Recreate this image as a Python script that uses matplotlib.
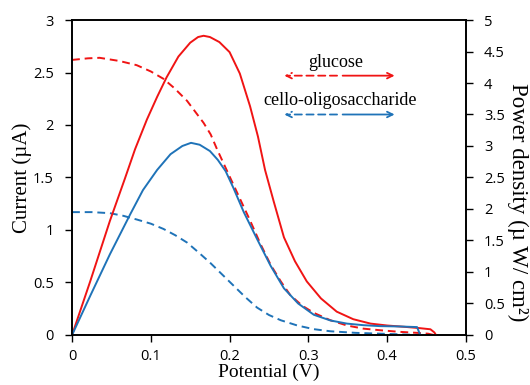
import matplotlib
matplotlib.use("Agg")
import matplotlib.pyplot as plt

# glucose: current (dashed, left axis) and power density (solid, right axis)
glu_v_i = [0, 0.02, 0.035, 0.06, 0.082, 0.1, 0.116, 0.13, 0.146, 0.157, 0.167, 0.176, 0.184,
           0.192, 0.2, 0.213, 0.226, 0.239, 0.252, 0.265, 0.277, 0.292, 0.307, 0.328, 0.349,
           0.37, 0.391, 0.415, 0.438, 0.452, 0.459]
glu_i = [2.62, 2.635, 2.64, 2.61, 2.57, 2.51, 2.44, 2.35, 2.23, 2.12, 2.02, 1.91, 1.77,
         1.64, 1.51, 1.30, 1.09, 0.87, 0.67, 0.51, 0.38, 0.28, 0.21, 0.14, 0.09,
         0.06, 0.045, 0.03, 0.02, 0.012, 0]
glu_v_p = [0, 0.023, 0.048, 0.067, 0.08, 0.095, 0.108, 0.12, 0.135, 0.15, 0.16, 0.167, 0.175,
           0.187, 0.2, 0.213, 0.226, 0.236, 0.245, 0.256, 0.269, 0.283, 0.298, 0.316, 0.336,
           0.357, 0.379, 0.4, 0.421, 0.44, 0.455, 0.46, 0.462]
glu_p = [0, 0.85, 1.81, 2.48, 2.95, 3.42, 3.78, 4.09, 4.42, 4.64, 4.73, 4.75, 4.73,
         4.65, 4.49, 4.15, 3.63, 3.15, 2.62, 2.12, 1.55, 1.17, 0.85, 0.58, 0.37,
         0.25, 0.18, 0.15, 0.13, 0.11, 0.09, 0.04, 0]

# cello-oligosaccharide
cel_v_i = [0, 0.025, 0.048, 0.065, 0.082, 0.1, 0.116, 0.131, 0.146, 0.16, 0.175, 0.19, 0.205,
           0.22, 0.235, 0.25, 0.265, 0.286, 0.307, 0.328, 0.36, 0.4, 0.438]
cel_i = [1.17, 1.17, 1.16, 1.135, 1.10, 1.06, 1.01, 0.95, 0.88, 0.79, 0.69, 0.58, 0.47,
         0.36, 0.26, 0.19, 0.14, 0.09, 0.055, 0.035, 0.02, 0.01, 0]
cel_v_p = [0, 0.023, 0.048, 0.074, 0.09, 0.108, 0.125, 0.14, 0.151, 0.162, 0.175, 0.185, 0.195,
           0.205, 0.218, 0.235, 0.252, 0.269, 0.287, 0.307, 0.328, 0.349, 0.37, 0.391, 0.415,
           0.438, 0.442]
cel_p = [0, 0.62, 1.28, 1.92, 2.3, 2.62, 2.87, 3.0, 3.05, 3.02, 2.92, 2.78, 2.6,
         2.33, 1.95, 1.52, 1.1, 0.74, 0.5, 0.32, 0.23, 0.18, 0.155, 0.14, 0.135,
         0.125, 0]

x_ticks = [0, 0.1, 0.2, 0.3, 0.4, 0.5]
x_labels = ["0", "0.1", "0.2", "0.3", "0.4", "0.5"]
i_ticks = [0, 0.5, 1, 1.5, 2, 2.5, 3]
i_labels = ["0", "0.5", "1", "1.5", "2", "2.5", "3"]
p_ticks = [0, 0.5, 1, 1.5, 2, 2.5, 3, 3.5, 4, 4.5, 5]
p_labels = ["0", "0.5", "1", "1.5", "2", "2.5", "3", "3.5", "4", "4.5", "5"]

red = "#f01414"
blue = "#1f73b8"
serif = "Liberation Serif"
sans = "Open Sans"

fig = plt.figure(figsize=(5.3, 3.85), dpi=100)
ax = fig.add_axes([0.136, 0.130, 0.743, 0.818])
ax2 = ax.twinx()

ax.plot(glu_v_i, glu_i, color=red, lw=1.4, ls=(0, (4, 2.5)))
ax.plot(cel_v_i, cel_i, color=blue, lw=1.4, ls=(0, (4, 2.5)))
ax2.plot(glu_v_p, glu_p, color=red, lw=1.4)
ax2.plot(cel_v_p, cel_p, color=blue, lw=1.4)

ax.set_xlim(0, 0.5)
ax.set_ylim(0, 3)
ax2.set_ylim(0, 5)
ax.set_xticks(x_ticks)
ax.set_xticklabels(x_labels)
ax.set_yticks(i_ticks)
ax.set_yticklabels(i_labels)
ax2.set_yticks(p_ticks)
ax2.set_yticklabels(p_labels)

for a in (ax, ax2):
    a.tick_params(direction="out", length=5, width=1, labelsize=10.5, pad=8)
    for lab in a.get_xticklabels() + a.get_yticklabels():
        lab.set_family(sans)
    for s in a.spines.values():
        s.set_linewidth(1.2)
ax.tick_params(axis="x", pad=5)

ax.set_xlabel("Potential (V)", family=serif, fontsize=14, labelpad=0)
ax.set_ylabel("Current (µA)", family=serif, fontsize=15, labelpad=1)
fig.text(518 / 530, 1 - 202 / 385, "Power density (µ W/ cm²)", family=serif, fontsize=16.5,
         rotation=270, ha="center", va="center")

# legend made of arrows
ax.text(0.335, 2.60, "glucose", family=serif, fontsize=13, ha="center", va="center")
ax.annotate("", xy=(0.266, 2.47), xytext=(0.34, 2.47),
            arrowprops=dict(arrowstyle="->", color=red, lw=1.3, ls=(0, (4, 2.5))))
ax.annotate("", xy=(0.413, 2.47), xytext=(0.34, 2.47),
            arrowprops=dict(arrowstyle="->", color=red, lw=1.3))
ax.text(0.34, 2.235, "cello-oligosaccharide", family=serif, fontsize=13, ha="center", va="center")
ax.annotate("", xy=(0.266, 2.10), xytext=(0.34, 2.10),
            arrowprops=dict(arrowstyle="->", color=blue, lw=1.3, ls=(0, (4, 2.5))))
ax.annotate("", xy=(0.413, 2.10), xytext=(0.34, 2.10),
            arrowprops=dict(arrowstyle="->", color=blue, lw=1.3))

fig.savefig("out.png", dpi=100)
